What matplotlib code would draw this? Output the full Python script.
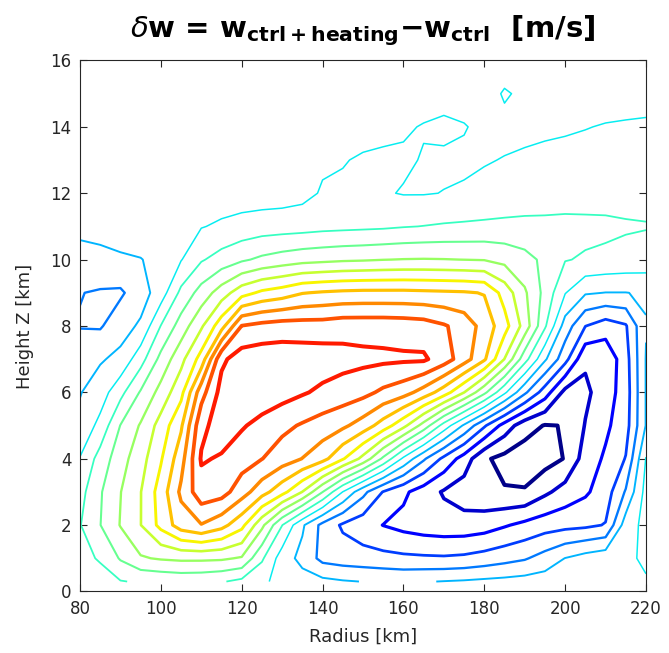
import numpy as np
import matplotlib.pyplot as plt

# grid (radius in km, height in km)
radius_km = np.arange(80, 221, 5)
height_km = [0.3, 1, 2, 3, 4, 5, 6, 7, 8, 9, 10, 11, 12, 13, 14, 15, 16]

# delta w, one row per height (r = 80 ... 220 every 5 km)
row_z00 = [0.6, 0.8, 0.95, 1.1, 1.2, 1.3, 1.25, 1.08, 0.75, 0.2, -0.35, -0.6, -0.75, -0.92, -1.02, -1.1, -1.15, -1.05, -0.97, -0.9, -0.8, -0.72, -0.62, -0.52, -0.42, -0.3, -0.2, -0.12, -0.05]
row_z01 = [0.85, 1.05, 2.1, 2.9, 3.1, 3.2, 3.2, 3.15, 2.9, 1.15, -0.5, -1.3, -2.3, -2.5, -2.6, -2.7, -2.8, -2.85, -2.88, -2.8, -2.6, -2.35, -2.1, -1.6, -0.98, -0.6, -0.35, -0.12, 0.1]
row_z02 = [0.95, 1.98, 3.05, 3.98, 5.3, 6.5, 6.95, 6.35, 5.3, 3.25, 1.02, -0.85, -2.3, -3.15, -3.6, -4.02, -4.3, -4.5, -4.6, -4.6, -4.45, -4.1, -3.75, -3.45, -3.3, -3.2, -2.95, -0.5, 0.3]
row_z03 = [0.65, 1.9, 2.97, 3.97, 5.45, 7.2, 8.6, 8.4, 7.45, 6.4, 5.35, 3.98, 2.02, -0.02, -1.7, -3.05, -3.8, -4.5, -5.1, -5.5, -5.75, -5.92, -5.92, -5.2, -4.6, -4.15, -3.5, -1.9, 0.35]
row_z04 = [0.05, 1.4, 2.6, 3.6, 4.9, 6.6, 9.1, 8.9, 8.45, 8.02, 7.5, 6.98, 6.35, 5.1, 3.7, 1.8, -0.2, -1.85, -3.25, -4.45, -5.85, -6.3, -6.5, -6.4, -5.95, -4.55, -3.85, -2.95, 0.05]
row_z05 = [-0.75, 0.3, 2.03, 3.1, 4.4, 5.85, 8.72, 9.5, 9.1, 8.7, 8.25, 7.9, 7.55, 7.2, 6.55, 5.55, 4.3, 2.6, 0.6, -1.15, -2.85, -4.4, -5.6, -6.05, -5.97, -4.95, -4.2, -3.4, -0.95]
row_z06 = [-1.05, -0.5, 0.7, 2.1, 3.35, 4.7, 7.6, 9.35, 9.7, 9.6, 9.4, 9.1, 8.8, 8.55, 8.3, 7.8, 7.4, 6.6, 5.5, 4.02, 2.25, 0.2, -1.8, -3.5, -5.3, -5.2, -4.5, -3.5, -0.95]
row_z07 = [-1.4, -1.1, -0.75, 0.6, 2.3, 3.7, 5.4, 8.8, 9.5, 9.6, 9.6, 9.55, 9.5, 9.35, 9.25, 9.2, 9.15, 9.15, 8.5, 7.45, 6.15, 3.98, 1.4, -0.85, -2.65, -4.85, -4.75, -3.4, -0.95]
row_z08 = [-2.05, -2.1, -1.4, -0.85, 1.03, 2.45, 3.85, 5.6, 8.03, 8.3, 8.45, 8.45, 8.45, 8.6, 8.6, 8.6, 8.55, 8.45, 8.1, 7.6, 6.6, 5.4, 3.6, 1.15, -1.45, -2.98, -3.5, -3.1, -1.05]
row_z09 = [-1.97, -2.1, -2.15, -1.45, -0.5, 1.25, 2.4, 3.5, 4.6, 5.2, 5.5, 5.95, 6.1, 6.2, 6.25, 6.25, 6.25, 6.2, 6.15, 6.1, 5.95, 4.6, 3.15, 1.7, 0.05, -0.9, -1.02, -1.02, -0.9]
row_z10 = [-1.3, -1.2, -1.1, -1.03, -0.75, -0.05, 0.9, 1.4, 1.85, 2.2, 2.45, 2.65, 2.75, 2.85, 2.9, 2.98, 3.03, 3.05, 3.03, 2.99, 2.95, 2.7, 2.3, 1.8, 1.05, 0.9, 0.8, 0.7, 0.6]
row_z11 = [-0.79, -0.75, -0.65, -0.5, -0.35, -0.2, -0.05, 0.15, 0.35, 0.5, 0.55, 0.6, 0.7, 0.75, 0.8, 0.85, 0.95, 1.02, 1.1, 1.15, 1.2, 1.25, 1.3, 1.3, 1.3, 1.25, 1.2, 1.1, 1.05]
row_z12 = [-0.7, -0.7, -0.65, -0.6, -0.55, -0.55, -0.55, -0.5, -0.5, -0.5, -0.45, -0.3, 0.1, 0.15, 0.18, 0.08, -0.05, -0.05, 0.02, 0.1, 0.2, 0.3, 0.35, 0.4, 0.5, 0.55, 0.6, 0.65, 0.7]
row_z13 = [-0.5, -0.5, -0.5, -0.45, -0.45, -0.45, -0.45, -0.4, -0.4, -0.35, -0.3, -0.25, -0.15, -0.05, 0.1, 0.2, 0.12, -0.05, -0.15, -0.15, -0.05, 0.03, 0.12, 0.2, 0.25, 0.3, 0.35, 0.38, 0.4]
row_z14 = [-0.4, -0.4, -0.4, -0.4, -0.4, -0.4, -0.4, -0.4, -0.38, -0.38, -0.36, -0.36, -0.35, -0.35, -0.33, -0.3, -0.1, 0.05, 0.2, 0.05, -0.2, -0.2, -0.2, -0.15, -0.1, -0.03, 0.05, 0.1, 0.15]
row_z15 = [-0.38, -0.38, -0.38, -0.38, -0.38, -0.38, -0.38, -0.38, -0.38, -0.38, -0.38, -0.38, -0.38, -0.38, -0.38, -0.38, -0.38, -0.38, -0.38, -0.38, -0.35, 0.08, -0.15, -0.3, -0.38, -0.38, -0.38, -0.38, -0.38]
row_z16 = [-0.42] * 29

dw = np.array([row_z00, row_z01, row_z02, row_z03, row_z04, row_z05, row_z06, row_z07, row_z08,
               row_z09, row_z10, row_z11, row_z12, row_z13, row_z14, row_z15, row_z16])

levels = np.arange(-6, 10)

# jet colours, thicker lines for larger |level|
line_colors = plt.cm.jet(np.linspace(0.011, 0.881, len(levels)))
line_widths = [(1.5 + 2.5 * abs(k) / (9 if k > 0 else 6)) * 0.72 for k in levels]

fig = plt.figure(figsize=(6.69, 6.53), dpi=100)
ax = fig.add_axes([0.1196, 0.0942, 0.8460, 0.8132])

ax.contour(radius_km, height_km, dw, levels=levels, colors=line_colors, linewidths=line_widths)

ax.set_xlim(80, 220)
ax.set_ylim(0, 16)
ax.set_xticks(range(80, 221, 20))
ax.set_yticks(range(0, 17, 2))
ax.tick_params(direction='in', top=True, right=True, length=5, width=0.8,
               colors='0.15', labelsize=12, pad=6)
for s in ax.spines.values():
    s.set_color('0.15')
    s.set_linewidth(0.8)

ax.set_xlabel('Radius [km]', fontsize=13, color='0.15', labelpad=7)
ax.set_ylabel('Height Z [km]', fontsize=13, color='0.15', labelpad=12)
ax.set_title(r'$\delta$w = w$_{\mathbf{ctrl+heating}}$−w$_{\mathbf{ctrl}}$  [m/s]',
             fontsize=21, fontweight='bold', pad=17)

fig.savefig('out.png', dpi=100)
